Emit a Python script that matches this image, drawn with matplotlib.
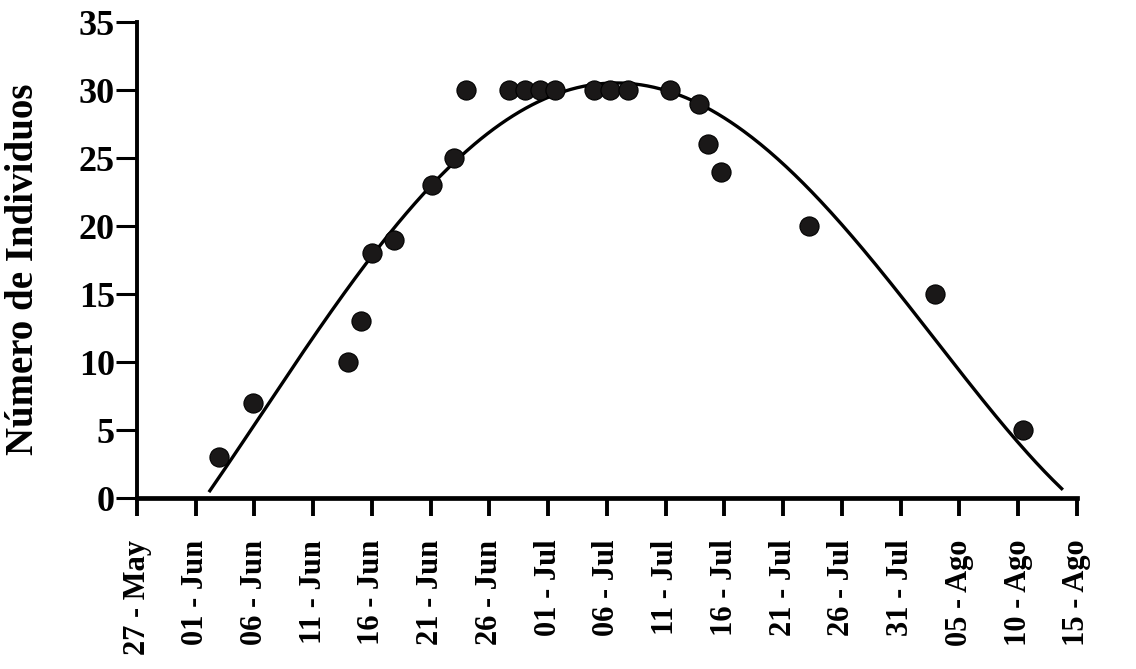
import numpy as np
import matplotlib.pyplot as plt

plt.rcParams["font.family"] = ["Liberation Serif", "DejaVu Serif"]
plt.rcParams["font.weight"] = "bold"

# x in days counted from 27 May
tick_days = list(range(0, 81, 5))
tick_labels = ["27 - May", "01 - Jun", "06 - Jun", "11 - Jun", "16 - Jun", "21 - Jun",
               "26 - Jun", "01 - Jul", "06 - Jul", "11 - Jul", "16 - Jul", "21 - Jul",
               "26 - Jul", "31 - Jul", "05 - Ago", "10 - Ago", "15 - Ago"]

obs_day = [7.0, 9.9, 18.0, 19.1, 20.0, 21.9, 25.1, 27.0,
           28.0, 31.7, 33.0, 34.3, 35.6, 38.9, 40.3, 41.8, 45.4,
           47.8, 48.6, 49.7, 57.2, 67.9, 75.4]
obs_count = [3, 7, 10, 13, 18, 19, 23, 25,
             30, 30, 30, 30, 30, 30, 30, 30, 30,
             29, 26, 24, 20, 15, 5]

# points
fit_day = [6.2, 10.6, 14.7, 19.65, 26.8, 33.7, 40.3, 48.7, 53.9, 58.4,
           62.8, 66.6, 70.4, 74.8, 78.7]
fit_val = [0.5, 6.7, 10.9, 17.0, 24.8, 29.4, 30.6, 28.4, 25.1, 21.7,
           17.0, 13.1, 9.2, 4.8, 0.25]

coef = np.polyfit(fit_day, fit_val, 4)
xs = np.linspace(fit_day[0], fit_day[-1], 400)

fig = plt.figure(figsize=(11.36, 6.69), dpi=100)
ax = fig.add_axes([0.1206, 0.2556, 0.8274, 0.7114])

ax.plot(xs, np.polyval(coef, xs), color="black", linewidth=2.4, zorder=2)
ax.scatter(obs_day, obs_count, s=190, color="#1a1818", edgecolors="black",
           linewidths=0.8, zorder=3, clip_on=False)

ax.set_xlim(0, 80)
ax.set_ylim(0, 35)
ax.set_xticks(tick_days)
ax.set_xticklabels(tick_labels, rotation=90, fontsize=22, fontweight="bold")
ax.set_yticks(range(0, 36, 5))
ax.tick_params(axis="y", labelsize=26, length=15, width=2.2, pad=1)
ax.tick_params(axis="x", length=13, width=2.8, pad=17)
for lab in ax.get_yticklabels():
    lab.set_fontweight("bold")

ax.set_ylabel("Número de Individuos", fontsize=28, fontweight="bold")
ax.yaxis.set_label_coords(-0.101, 0.48)

for side in ["top", "right"]:
    ax.spines[side].set_visible(False)
ax.spines["left"].set_linewidth(2.8)
ax.spines["bottom"].set_linewidth(3.4)

fig.savefig("out.png", dpi=100)
